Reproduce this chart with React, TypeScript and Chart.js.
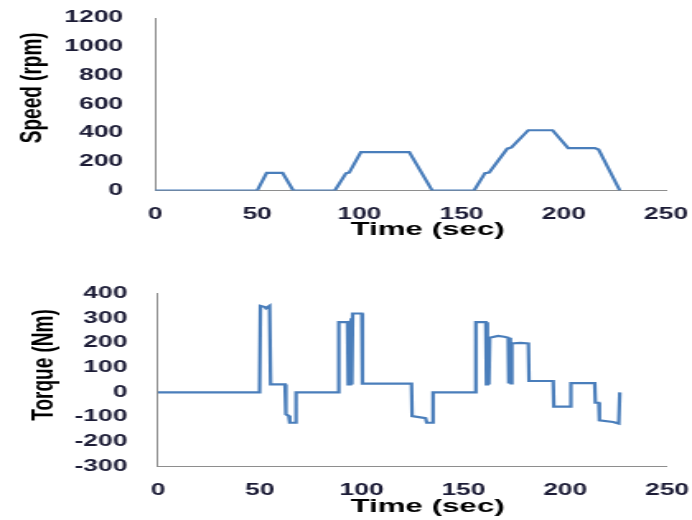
import React, { useEffect, useRef } from 'react';
import { Chart, registerables } from 'chart.js';

Chart.register(...registerables);

// ---- data ----
const speedTime = [0, 50, 54.6, 62.4, 67.6, 88, 93.4, 95, 100.7, 124.4, 135.6, 156.1, 161.4, 163.5, 172.3, 174.4, 182.6, 194.5, 202.1, 215.2, 217, 227.4];
const speedRpm = [0, 0, 123, 123, 0, 0, 120, 125, 267, 267, 0, 0, 121, 125, 291, 300, 419, 419, 295, 295, 285, 0];

const torqueTime = [
  0, 49.9, 50.3, 52.5, 53, 54.8, 55.3, 62.4, 62.8, 64.2, 64.7, 67.3, 67.8,
  88.5, 88.8, 93.1, 93.4, 93.7, 94, 94.3, 94.6, 94.9, 95.2, 95.6, 100.1, 100.4,
  124.5, 124.8, 131.4, 132, 134.7, 135.1,
  155.8, 156.1, 161, 161.3, 161.6, 161.9, 162.2, 162.5, 162.9, 167, 170, 172,
  172.3, 172.6, 172.9, 173.2, 173.5, 173.8, 178, 181.9, 182.2, 194.1, 194.4,
  202.5, 202.8, 214.5, 214.8, 216.5, 216.8, 223.5, 226.3, 226.8
];
const torqueNm = [
  0, 0, 350, 345, 340, 350, 32, 32, -89, -95, -123, -123, 0,
  0, 284, 284, 32, 284, 32, 290, 32, 300, 32, 319, 319, 35,
  35, -96, -104, -123, -123, 0,
  0, 284, 284, 32, 284, 32, 221, 32, 221, 228, 225, 221,
  36, 221, 36, 198, 36, 198, 200, 198, 46, 46, -58,
  -58, 37, 37, -42, -42, -113, -120, -126, 0
];

const timeTicks = [0, 50, 100, 150, 200, 250];
const speedTicks = [0, 200, 400, 600, 800, 1000, 1200];
const torqueTicks = [-300, -200, -100, 0, 100, 200, 300, 400];

const speedTitle = 'Speed (rpm)';
const torqueTitle = 'Torque (Nm)';
const timeTitle = 'Time (sec)';

// ---- geometry (logical canvas units; the canvas is stretched horizontally) ----
const LOGICAL_W = 420;
const PANEL_H = 260;
const SX = 692 / LOGICAL_W;
const FONT = '"Liberation Sans", Arial, sans-serif';
const LINE_COLOR = '#4a7ebb';
const AXIS_COLOR = '#8e8e8e';
const TICK_COLOR = '#1c1c36';

const axisTitlePlugin = {
  id: 'axisTitles',
  afterDraw(chart: any, _args: any, opts: any) {
    const { ctx, chartArea } = chart;
    ctx.save();
    ctx.font = `bold 19px ${FONT}`;
    ctx.fillStyle = '#000';
    ctx.textAlign = 'center';
    ctx.textBaseline = 'middle';
    ctx.fillText(opts.xText, opts.xX, chartArea.bottom + opts.xDy);
    ctx.translate(opts.yX, (chartArea.top + chartArea.bottom) / 2 + opts.yDy);
    ctx.rotate(-Math.PI / 2);
    ctx.fillText(opts.yText, 0, 0);
    ctx.restore();
  },
};

type PanelProps = {
  times: number[];
  values: number[];
  yTicks: number[];
  yTitle: string;
  padTop: number;
  plotBottom: number;
  yAxisWidth: number;
  padRight: number;
  yTickPad: number;
  yTitleX: number;
  yTitleDy: number;
  xTitleDy: number;
};

function Panel(p: PanelProps) {
  const ref = useRef<HTMLCanvasElement | null>(null);
  useEffect(() => {
    if (!ref.current) return;
    const xAxisH = 40;
    const data = p.times.map((t, i) => ({ x: t, y: p.values[i] }));
    const chart = new Chart(ref.current, {
      type: 'line',
      data: {
        datasets: [
          {
            data,
            borderColor: LINE_COLOR,
            backgroundColor: LINE_COLOR,
            borderWidth: 2.2,
            pointRadius: 0,
            tension: 0,
            fill: false,
          },
        ],
      },
      options: {
        responsive: false,
        animation: false,
        devicePixelRatio: 1,
        parsing: false,
        layout: {
          padding: {
            top: p.padTop,
            left: 0,
            right: p.padRight,
            bottom: PANEL_H - p.plotBottom - xAxisH,
          },
        },
        plugins: {
          legend: { display: false },
          tooltip: { enabled: false },
          axisTitles: {
            xText: timeTitle,
            xX: 427.5 / SX,
            xDy: p.xTitleDy,
            yText: p.yTitle,
            yX: p.yTitleX,
            yDy: p.yTitleDy,
          },
        } as any,
        scales: {
          x: {
            type: 'linear',
            min: timeTicks[0],
            max: timeTicks[timeTicks.length - 1],
            afterFit: (s: any) => {
              s.height = xAxisH;
              s.paddingLeft = 0;
              s.paddingRight = 0;
            },
            ticks: {
              stepSize: timeTicks[1] - timeTicks[0],
              color: TICK_COLOR,
              font: { family: FONT, size: 16, weight: 'bold' },
              padding: 14,
              maxRotation: 0,
              callback: (v: any) => String(v),
            },
            grid: { display: false, drawTicks: false },
            border: { display: true, color: AXIS_COLOR, width: 1 },
          },
          y: {
            type: 'linear',
            min: p.yTicks[0],
            max: p.yTicks[p.yTicks.length - 1],
            afterFit: (s: any) => {
              s.width = p.yAxisWidth;
              s.paddingTop = 0;
              s.paddingBottom = 0;
            },
            ticks: {
              stepSize: p.yTicks[1] - p.yTicks[0],
              color: TICK_COLOR,
              font: { family: FONT, size: 16, weight: 'bold' },
              padding: p.yTickPad,
              callback: (v: any) => String(v),
            },
            grid: { display: false, drawTicks: false },
            border: { display: true, color: AXIS_COLOR, width: 1 },
          },
        },
      },
      plugins: [axisTitlePlugin],
    } as any);
    return () => chart.destroy();
  }, []);
  return (
    <div style={{ height: PANEL_H, width: LOGICAL_W, overflow: 'visible' }}>
      <canvas
        ref={ref}
        width={LOGICAL_W}
        height={PANEL_H}
        style={{ display: 'block', transform: `scaleX(${SX})`, transformOrigin: '0 0' }}
      />
    </div>
  );
}

export default function App() {
  return (
    <div style={{ position: 'absolute', left: 0, top: 0, width: 692, height: 520, background: '#fff' }}>
      <Panel
        times={speedTime}
        values={speedRpm}
        yTicks={speedTicks}
        yTitle={speedTitle}
        padTop={18}
        plotBottom={190.5}
        yAxisWidth={155 / SX}
        padRight={LOGICAL_W - 666 / SX}
        yTickPad={19.4}
        yTitleX={32 / SX}
        yTitleDy={-16.5}
        xTitleDy={39.5}
      />
      <Panel
        times={torqueTime}
        values={torqueNm}
        yTicks={torqueTicks}
        yTitle={torqueTitle}
        padTop={33.5}
        plotBottom={206.5}
        yAxisWidth={158 / SX}
        padRight={LOGICAL_W - 667 / SX}
        yTickPad={18.6}
        yTitleX={44 / SX}
        yTitleDy={-15}
        xTitleDy={40.5}
      />
    </div>
  );
}
